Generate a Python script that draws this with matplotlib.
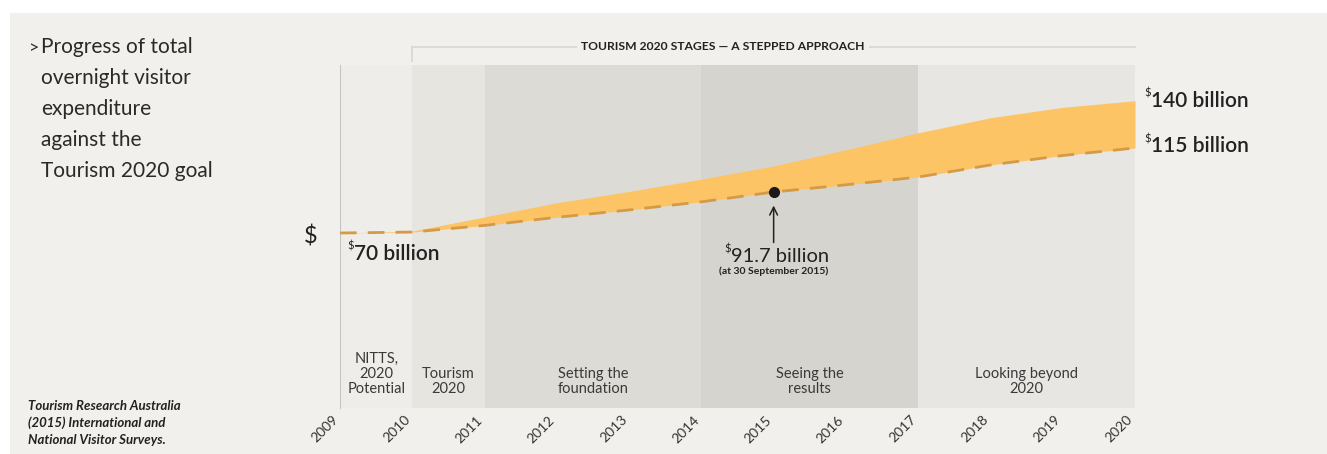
import matplotlib.pyplot as plt
from matplotlib.patches import Rectangle

plt.rcParams['font.family'] = ['Lato', 'DejaVu Sans']

# data
years = [2009, 2010, 2011, 2012, 2013, 2014, 2015, 2016, 2017, 2018, 2019, 2020]
lower = [70, 70.5, 74, 78.3, 82.2, 86.5, 91.7, 95.5, 99.6, 106, 111, 115]
upper = [70, 71, 78.5, 86, 92, 98.5, 105.5, 114, 123, 131, 136.5, 140]
tick_labels = [str(y) for y in years]

point_year = [2015]
point_value = [91.7]

stage_edges = [2009, 2010, 2011, 2014, 2017, 2020]
stage_names = ['NITTS,\n2020\nPotential', 'Tourism\n2020', 'Setting the\nfoundation',
               'Seeing the\nresults', 'Looking beyond\n2020']
stage_colors = ['#efede9', '#e7e5e0', '#dddbd5', '#d6d4ce', '#e8e6e2']

W, H = 1327, 454
fig = plt.figure(figsize=(W / 100, H / 100), dpi=100, facecolor='white')
fig.patches.append(Rectangle((10 / W, 0), 1, 1 - 13 / H, transform=fig.transFigure,
                             facecolor='#f2f0ec', edgecolor='none', zorder=-10))

ax = fig.add_axes([340 / W, 46 / H, 795 / W, 343 / H])
ax.set_facecolor('none')
ax.set_xlim(2009, 2020)
ax.set_ylim(-22.6, 158.9)

for i, name in enumerate(stage_names):
    ax.axvspan(stage_edges[i], stage_edges[i + 1], color=stage_colors[i], lw=0, zorder=0)
    ax.text((stage_edges[i] + stage_edges[i + 1]) / 2, 0.035, name,
            transform=ax.get_xaxis_transform(), ha='center', va='bottom',
            fontsize=10.5, color='#3a3a3a', linespacing=1.1)

ax.fill_between(years, lower, upper, color='#fdc466', lw=0, zorder=2)
ax.plot(years, lower, color='#d49a45', lw=2, dashes=(6, 4), zorder=3)
ax.plot(point_year, point_value, 'o', color='#1a1a1a', ms=7, zorder=4)

ax.annotate('', xy=(2015, 86), xytext=(2015, 63.5),
            arrowprops=dict(arrowstyle='->', color='#222222', lw=1.1, mutation_scale=14))

# value labels
def money(x, y, s, size=15.5, small=8, weight='bold'):
    ax.text(x, y + 4, '$', fontsize=small, ha='right', va='center', color='#222222',
            parse_math=False, clip_on=False)
    ax.text(x, y, s, fontsize=size, ha='left', va='center', color='#222222',
            weight=weight, parse_math=False, clip_on=False)

money(2009.19, 58.9, '70 billion', size=15, weight='semibold')
money(2014.41, 57.8, '91.7 billion', size=14.5, weight='normal')
money(2020.22, 139.9, '140 billion', size=15, weight='semibold')
money(2020.22, 116, '115 billion', size=15, weight='semibold')
ax.text(2015.0, 50.0, '(at 30 September 2015)', fontsize=7.5, weight='bold',
        ha='center', va='center', color='#222222')

# stepped approach bracket
ax.plot([2010, 2020], [1.0525, 1.0525], transform=ax.get_xaxis_transform(),
        color='#d8d6d2', lw=1.2, clip_on=False)
ax.plot([2010, 2010], [1.0525, 1.012], transform=ax.get_xaxis_transform(),
        color='#d8d6d2', lw=1.2, clip_on=False)
ax.text(2014.3, 1.0525, 'TOURISM 2020 STAGES \u2014 A STEPPED APPROACH',
        transform=ax.get_xaxis_transform(), ha='center', va='center', fontsize=8.7,
        weight='bold', color='#222222',
        bbox=dict(facecolor='#f2f0ec', edgecolor='none', pad=3))

ax.set_xticks(years)
ax.set_xticklabels(tick_labels, rotation=45, ha='right', fontsize=10, color='#333333')
ax.set_yticks([])
ax.tick_params(axis='x', length=0, pad=4)
for side in ['top', 'right', 'bottom']:
    ax.spines[side].set_visible(False)
ax.spines['left'].set_color('#c8c6c2')
ax.spines['left'].set_linewidth(0.8)

fig.text(311 / W, 1 - 237 / H, '$', fontsize=17, ha='center', va='center',
         color='#222222', parse_math=False)

fig.text(29 / W, 1 - 48 / H, '>', fontsize=13, ha='left', va='center', color='#2a2a2a')
fig.text(41 / W, 1 - 37 / H,
         'Progress of total\novernight visitor\nexpenditure\nagainst the\nTourism 2020 goal',
         fontsize=15, ha='left', va='top', linespacing=1.68, color='#2a2a2a')

fig.text(28 / W, 1 - 400 / H,
         'Tourism Research Australia\n(2015) International and\nNational Visitor Surveys.',
         fontsize=9.5, style='italic', weight='bold', ha='left', va='top',
         linespacing=1.45, color='#222222')

plt.savefig('out.png', dpi=100, facecolor=fig.get_facecolor())
